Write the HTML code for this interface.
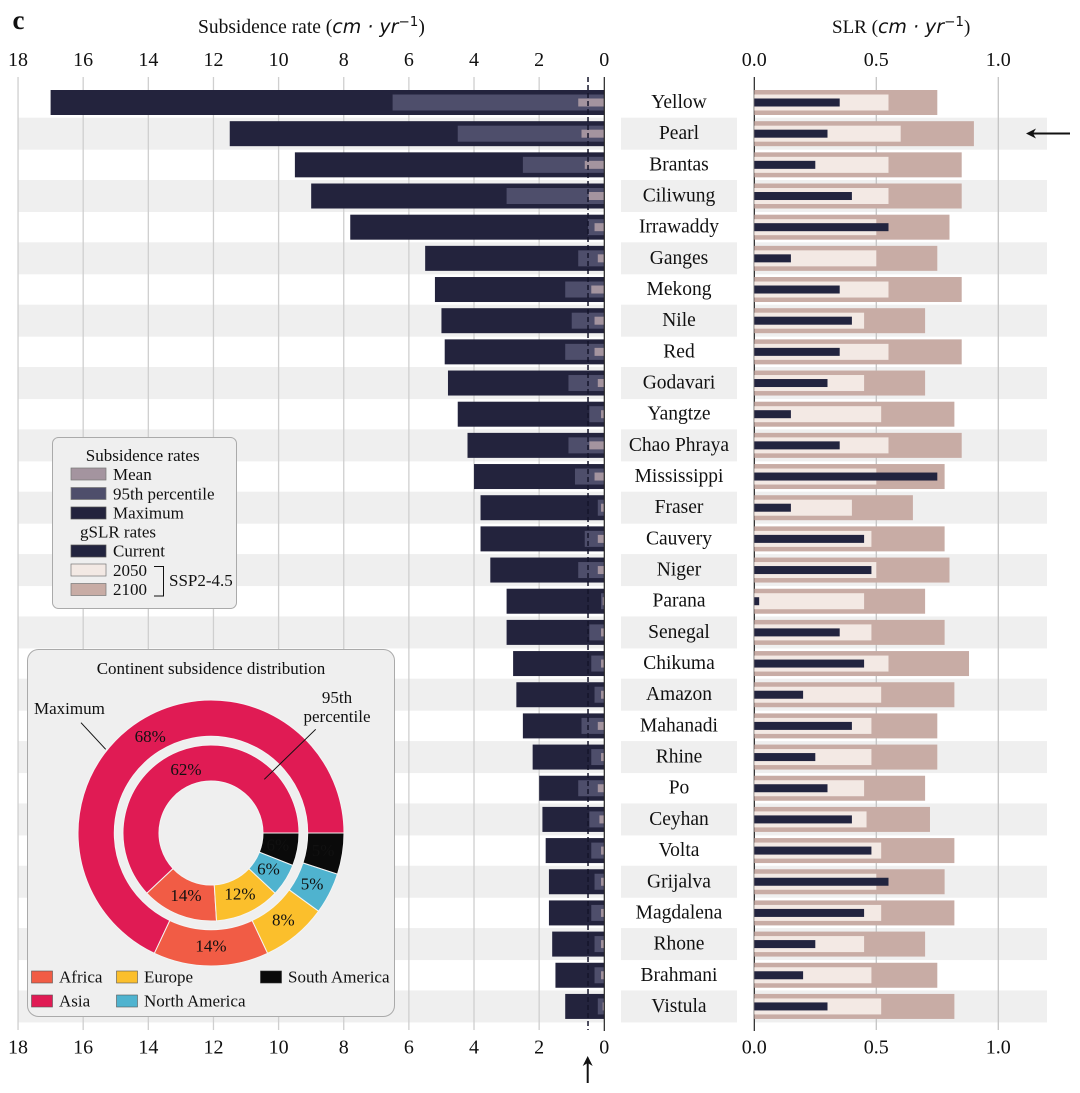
<!DOCTYPE html>
<html>
<head>
<meta charset="utf-8">
<title>Subsidence and sea level rise by delta</title>
<style>
html,body{margin:0;padding:0;background:#fff;width:1080px;height:1093px;overflow:hidden}
svg{display:block}
text{font-family:"Liberation Serif",serif;fill:#111}
.math{font-family:"DejaVu Sans",sans-serif;font-style:italic}
.tick{font-size:20px;text-anchor:middle}
.leg{font-size:17px}
</style>
</head>
<body>
<svg id="chart" xmlns="http://www.w3.org/2000/svg" width="1080" height="1093" viewBox="0 0 1080 1093">
  <g id="bands"></g>
  <g id="grid"></g>
  <g id="subsidence"></g>
  <g id="slr"></g>
  <g id="axes"></g>
  <g id="rowlabels"></g>

  <text x="12.5" y="29" style="font-size:27px;font-weight:bold">c</text>
  <text x="198" y="33" style="font-size:19.5px">Subsidence rate (<tspan class="math" style="font-size:19px">cm · yr</tspan><tspan class="math" dy="-7" style="font-size:13.5px;font-style:normal">−1</tspan><tspan dy="7">)</tspan></text>
  <text x="832" y="33" style="font-size:19px">SLR (<tspan class="math" style="font-size:19px">cm · yr</tspan><tspan class="math" dy="-7" style="font-size:13.5px;font-style:normal">−1</tspan><tspan dy="7">)</tspan></text>

  <g>
    <line x1="587.7" y1="1083" x2="587.7" y2="1061" stroke="#111" stroke-width="2"/>
    <path d="M587.7 1056 L582.7 1066 L587.7 1063 L592.7 1066 Z" fill="#111"/>
  </g>
  <g>
    <line x1="1070" y1="133.5" x2="1031" y2="133.5" stroke="#111" stroke-width="2"/>
    <path d="M1026 133.5 L1036 128.5 L1033 133.5 L1036 138.5 Z" fill="#111"/>
  </g>

  <g>
    <rect x="52.5" y="437.5" width="184" height="171" rx="6" fill="#efefef" stroke="#aaa" stroke-width="1"/>
    <text class="leg" x="142.7" y="461" text-anchor="middle">Subsidence rates</text>
    <rect x="71" y="468" width="35" height="12" fill="#a4949f" stroke="#777" stroke-width=".7"/>
    <text class="leg" x="113" y="480">Mean</text>
    <rect x="71" y="487.5" width="35" height="12" fill="#4e4e6b" stroke="#777" stroke-width=".7"/>
    <text class="leg" x="113" y="499.5">95th percentile</text>
    <rect x="71" y="507" width="35" height="12" fill="#23233d" stroke="#555" stroke-width=".7"/>
    <text class="leg" x="113" y="518.5">Maximum</text>
    <text class="leg" x="118" y="537.5" text-anchor="middle">gSLR rates</text>
    <rect x="71" y="545" width="35" height="12" fill="#22243f" stroke="#555" stroke-width=".7"/>
    <text class="leg" x="113" y="556.5">Current</text>
    <rect x="71" y="564" width="35" height="12" fill="#f3e9e4" stroke="#777" stroke-width=".7"/>
    <text class="leg" x="113" y="576">2050</text>
    <rect x="71" y="583.5" width="35" height="12" fill="#c8aca5" stroke="#777" stroke-width=".7"/>
    <text class="leg" x="113" y="595">2100</text>
    <path d="M154 566.5 H163.5 V596 H154" fill="none" stroke="#111" stroke-width="1"/>
    <text class="leg" x="169" y="586">SSP2-4.5</text>
  </g>

  <g>
    <rect x="27.5" y="649.5" width="367" height="367" rx="11" fill="#efefef" stroke="#aaa" stroke-width="1"/>
    <text class="leg" x="211" y="674" text-anchor="middle">Continent subsidence distribution</text>
    <g id="donut"></g>
    <text class="leg" x="34" y="714">Maximum</text>
    <line x1="81" y1="722.7" x2="105.7" y2="749.3" stroke="#111" stroke-width="1"/>
    <text class="leg" x="337" y="703" text-anchor="middle">95th</text>
    <text class="leg" x="337" y="722" text-anchor="middle">percentile</text>
    <line x1="315.7" y1="729.3" x2="264.3" y2="779.3" stroke="#111" stroke-width="1"/>

    <rect x="31.5" y="971" width="21" height="12" fill="#f15c45" stroke="#555" stroke-width=".6"/>
    <text class="leg" x="59" y="982.5">Africa</text>
    <rect x="31.5" y="995" width="21" height="12" fill="#e01b54" stroke="#555" stroke-width=".6"/>
    <text class="leg" x="59" y="1006.5">Asia</text>
    <rect x="116.5" y="971" width="21" height="12" fill="#fbbf2c" stroke="#555" stroke-width=".6"/>
    <text class="leg" x="144" y="982.5">Europe</text>
    <rect x="116.5" y="995" width="21" height="12" fill="#4fb3cf" stroke="#555" stroke-width=".6"/>
    <text class="leg" x="144" y="1006.5">North America</text>
    <rect x="260.5" y="971" width="21" height="12" fill="#0a0a0a" stroke="#333" stroke-width=".6"/>
    <text class="leg" x="288" y="982.5">South America</text>
  </g>
</svg>

<script>
const deltas = ["Yellow","Pearl","Brantas","Ciliwung","Irrawaddy","Ganges","Mekong","Nile","Red","Godavari","Yangtze","Chao Phraya","Mississippi","Fraser","Cauvery","Niger","Parana","Senegal","Chikuma","Amazon","Mahanadi","Rhine","Po","Ceyhan","Volta","Grijalva","Magdalena","Rhone","Brahmani","Vistula"];
const subsidenceMax = [17,11.5,9.5,9,7.8,5.5,5.2,5,4.9,4.8,4.5,4.2,4,3.8,3.8,3.5,3,3,2.8,2.7,2.5,2.2,2,1.9,1.8,1.7,1.7,1.6,1.5,1.2];
const subsidenceP95 = [6.5,4.5,2.5,3,0.5,0.8,1.2,1,1.2,1.1,0.46,1.1,0.9,0.2,0.6,0.8,0.1,0.46,0.4,0.3,0.7,0.4,0.8,0.46,0.4,0.3,0.4,0.3,0.3,0.2];
const subsidenceMean = [0.8,0.7,0.6,0.48,0.3,0.2,0.4,0.3,0.3,0.2,0.1,0.46,0.3,0.1,0.2,0.2,0.05,0.1,0.1,0.1,0.2,0.1,0.2,0.15,0.1,0.1,0.1,0.1,0.1,0.05];
const slr2100 = [0.75,0.9,0.85,0.85,0.8,0.75,0.85,0.7,0.85,0.7,0.82,0.85,0.78,0.65,0.78,0.8,0.7,0.78,0.88,0.82,0.75,0.75,0.7,0.72,0.82,0.78,0.82,0.7,0.75,0.82];
const slr2050 = [0.55,0.6,0.55,0.55,0.5,0.5,0.55,0.45,0.55,0.45,0.52,0.55,0.5,0.4,0.48,0.5,0.45,0.48,0.55,0.52,0.48,0.48,0.45,0.46,0.52,0.5,0.52,0.45,0.48,0.52];
const slrCurrent = [0.35,0.3,0.25,0.4,0.55,0.15,0.35,0.4,0.35,0.3,0.15,0.35,0.75,0.15,0.45,0.48,0.02,0.35,0.45,0.2,0.4,0.25,0.3,0.4,0.48,0.55,0.45,0.25,0.2,0.3];
const subsidenceTicks = [18,16,14,12,10,8,6,4,2,0];
const slrTicks = ["0.0","0.5","1.0"];
const thresholdValue = 0.5;
const continents = ["Asia","Africa","Europe","North America","South America"];
const outerShares = [68,14,8,5,5];
const innerShares = [62,14,12,6,6];

const NS = "http://www.w3.org/2000/svg";
const subX = v => 604.3 - v * 32.57;
const slrX = v => 754.3 + v * 244;
const rowY = i => 102.5 + i * 31.17;

function make(parent, tag) {
  const el = document.createElementNS(NS, tag);
  parent.appendChild(el);
  return el;
}
function setRect(el, x, y, w, h, fill) {
  el.setAttribute('x', x);
  el.setAttribute('y', y);
  el.setAttribute('width', w);
  el.setAttribute('height', h);
  el.setAttribute('fill', fill);
}
function setLine(el, x1, y1, x2, y2, stroke, sw) {
  el.setAttribute('x1', x1);
  el.setAttribute('y1', y1);
  el.setAttribute('x2', x2);
  el.setAttribute('y2', y2);
  el.setAttribute('stroke', stroke);
  el.setAttribute('stroke-width', sw);
}

const bandsG = document.getElementById('bands');
const gridG = document.getElementById('grid');
const subG = document.getElementById('subsidence');
const slrG = document.getElementById('slr');
const axesG = document.getElementById('axes');
const labelG = document.getElementById('rowlabels');
const donutG = document.getElementById('donut');

deltas.forEach((name, i) => {
  if (i % 2 === 1) {
    [[18, 586], [621, 116], [754, 293]].forEach(seg => {
      const band = make(bandsG, 'rect');
      setRect(band, seg[0], rowY(i) - 16, seg[1], 32, '#efefef');
      
      
    });
  }
});

subsidenceTicks.forEach(t => {
  if (t !== 0) {
    const g = make(gridG, 'line');
    setLine(g, subX(t), 77, subX(t), 1030, '#cfcfcf', 1.3);
    
    
  }
  [66, 1053.5].forEach(y => {
    const lab = make(axesG, 'text');
    lab.setAttribute('class', 'tick');
    lab.setAttribute('x', subX(t));
    lab.setAttribute('y', y);
    lab.textContent = t;
    
    
  });
});
slrTicks.forEach(t => {
  const v = parseFloat(t);
  if (v !== 0) {
    const g = make(gridG, 'line');
    setLine(g, slrX(v), 77, slrX(v), 1030, '#c4c4c4', 1.3);
    
    
  }
  [66, 1053.5].forEach(y => {
    const lab = make(axesG, 'text');
    lab.setAttribute('class', 'tick');
    lab.setAttribute('x', slrX(v));
    lab.setAttribute('y', y);
    lab.textContent = t;
    
    
  });
});

const slrAxis = make(gridG, 'line');
setLine(slrAxis, slrX(0), 77, slrX(0), 1031, '#222', 1.2);



deltas.forEach((name, i) => {
  const cy = rowY(i);
  const maxBar = make(subG, 'rect');
  setRect(maxBar, subX(subsidenceMax[i]), cy - 12.5, subX(0) - subX(subsidenceMax[i]), 25, '#23233d');
  
  
  const p95Bar = make(subG, 'rect');
  setRect(p95Bar, subX(subsidenceP95[i]), cy - 8, subX(0) - subX(subsidenceP95[i]), 16, '#4e4e6b');
  
  
  const meanBar = make(subG, 'rect');
  setRect(meanBar, subX(subsidenceMean[i]), cy - 4, subX(0) - subX(subsidenceMean[i]), 8, '#a4949f');
  
  

  const b2100 = make(slrG, 'rect');
  setRect(b2100, slrX(0), cy - 12.5, slrX(slr2100[i]) - slrX(0), 25, '#c8aca5');
  
  
  const b2050 = make(slrG, 'rect');
  setRect(b2050, slrX(0), cy - 8, slrX(slr2050[i]) - slrX(0), 16, '#f3e9e4');
  
  
  const bNow = make(slrG, 'rect');
  setRect(bNow, slrX(0), cy - 4, slrX(slrCurrent[i]) - slrX(0), 8, '#22243f');
  
  

  const label = make(labelG, 'text');
  label.setAttribute('x', 679);
  label.setAttribute('y', cy + 5.5);
  label.setAttribute('text-anchor', 'middle');
  label.setAttribute('style', 'font-size:19.5px');
  label.textContent = name;
  
  
});

const subAxis = make(axesG, 'line');
setLine(subAxis, subX(0), 77, subX(0), 1031, '#222', 1.2);


const threshold = make(axesG, 'line');
setLine(threshold, subX(thresholdValue), 77, subX(thresholdValue), 1030, '#15152b', 1.5);
threshold.setAttribute('stroke-dasharray', '5 3');



const donutColors = ['#e01b54', '#f15c45', '#fbbf2c', '#4fb3cf', '#0a0a0a'];
const cx = 211, cy0 = 833;
function polar(r, deg) {
  const a = deg * Math.PI / 180;
  return [cx + r * Math.cos(a), cy0 - r * Math.sin(a)];
}
function drawRing(shares, rOut, rIn, rLabel, ringName) {
  const total = shares.reduce((a, b) => a + b, 0);
  let start = 0;
  shares.forEach((s, i) => {
    const end = start + s / total * 360;
    const p1 = polar(rOut, start), p2 = polar(rOut, end), p3 = polar(rIn, end), p4 = polar(rIn, start);
    const large = end - start > 180 ? 1 : 0;
    const wedge = make(donutG, 'path');
    wedge.setAttribute('d', `M${p1[0]} ${p1[1]} A${rOut} ${rOut} 0 ${large} 0 ${p2[0]} ${p2[1]} L${p3[0]} ${p3[1]} A${rIn} ${rIn} 0 ${large} 1 ${p4[0]} ${p4[1]} Z`);
    wedge.setAttribute('fill', donutColors[i]);
    wedge.setAttribute('stroke', '#f4f4f4');
    wedge.setAttribute('stroke-width', '1');
    
    
    const lp = polar(rLabel, (start + end) / 2);
    const t = make(donutG, 'text');
    t.setAttribute('x', lp[0]);
    t.setAttribute('y', lp[1] + 5);
    t.setAttribute('text-anchor', 'middle');
    t.setAttribute('style', 'font-size:17px');
    t.textContent = s + '%';
    
    
    start = end;
  });
}
drawRing(outerShares, 133, 96.7, 113.5, 'maximum-ring');
drawRing(innerShares, 88, 52, 68, 'p95-ring');
</script>
</body>
</html>
